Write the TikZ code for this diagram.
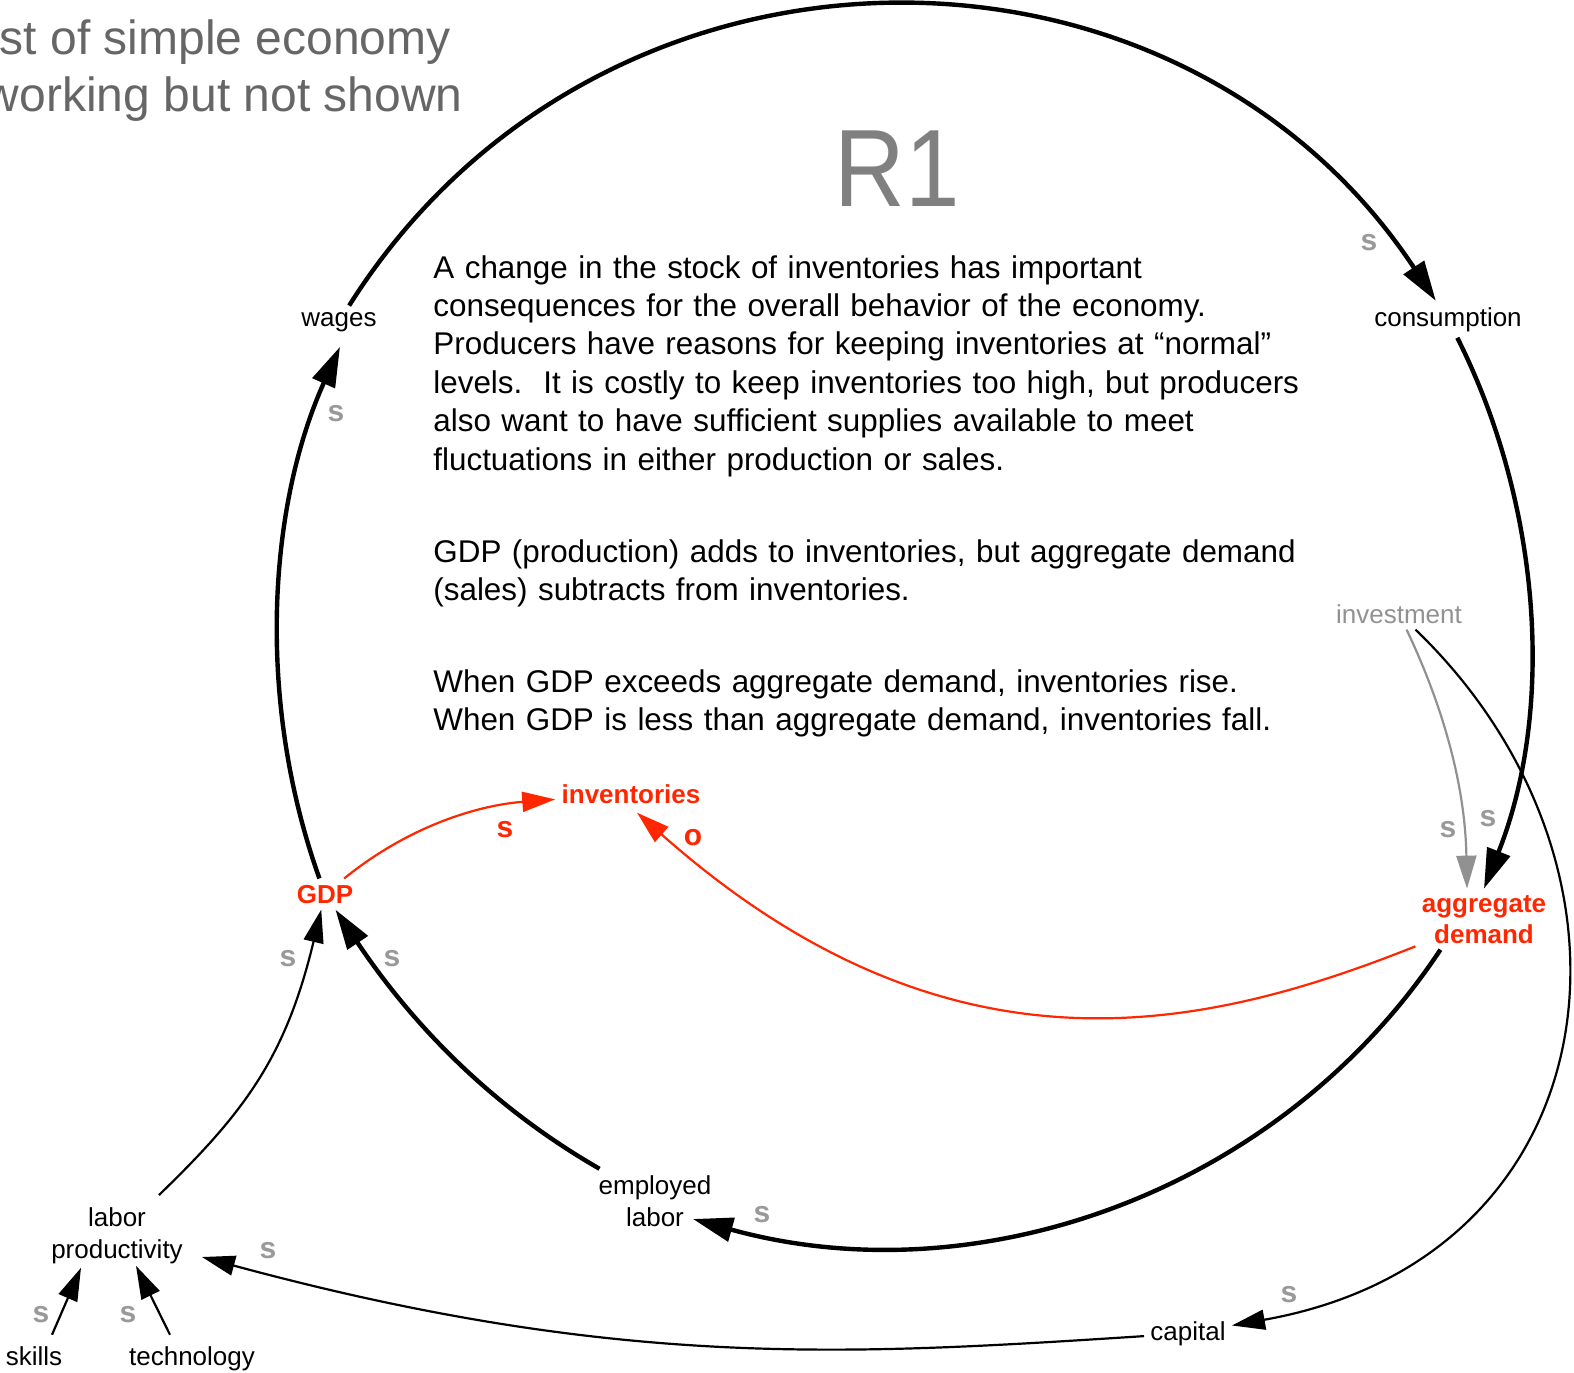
\documentclass[tikz,border=0pt]{standalone}
\usepackage{fontspec}
\setmainfont{Liberation Sans}
\usetikzlibrary{arrows.meta,calc}
\definecolor{loopred}{RGB}{255,38,0}
\definecolor{signgray}{RGB}{153,153,153}
\definecolor{titlegray}{RGB}{102,102,102}
\definecolor{bigray}{RGB}{128,128,128}
\definecolor{invgray}{RGB}{145,145,145}

\begin{document}
\begin{tikzpicture}[x=0.5pt,y=-0.5pt,
  lab/.style={font=\fontsize{13}{16}\selectfont, align=center, inner sep=3pt},
  redlab/.style={lab, font=\fontsize{13}{15.5}\selectfont\bfseries, text=loopred},
  sign/.style={font=\fontsize{15}{17}\selectfont\bfseries, text=signgray, inner sep=0pt},
  redsign/.style={sign, text=loopred},
  bigarrow/.style={line width=2.2pt, -{Triangle[length=20pt,width=12pt]}},
  smallarrow/.style={line width=1.1pt, -{Triangle[length=16.5pt,width=10pt]}},
  redarrow/.style={smallarrow, loopred},
  grayarrow/.style={smallarrow, invgray},
  para/.style={font=\fontsize{15.7}{19.2}\selectfont, align=left, inner sep=0pt,
    text width=480pt, anchor=base west},
]
\useasboundingbox (0,0) rectangle (1574,1372);

% heading fragments and loop name
\node[font=\fontsize{24}{28.5}\selectfont, text=titlegray, anchor=base east, inner sep=0pt]
  (t1) at (451,54) {st of simple economy};
\node[font=\fontsize{24}{28.5}\selectfont, text=titlegray, anchor=base east, inner sep=0pt]
  (t2) at (463,111) {working but not shown};
\node[font=\fontsize{55}{60}\selectfont, text=bigray, anchor=base, inner sep=0pt]
  (r1) at (897,206) {\scalebox{0.89}[1]{R1}};

% explanatory text
\node[para] (p1) at (433,278) {A change in the stock of inventories has important\\
consequences for the overall behavior of the economy.\\
Producers have reasons for keeping inventories at “normal”\\
levels.\ \ It is costly to keep inventories too high, but producers\\
also want to have sufficient supplies available to meet\\
fluctuations in either production or sales.};
\node[para] (p2) at (433,562) {GDP (production) adds to inventories, but aggregate demand\\
(sales) subtracts from inventories.};
\node[para] (p3) at (433,692) {When GDP exceeds aggregate demand, inventories rise.\\
When GDP is less than aggregate demand, inventories fall.};

% variables (base = baseline of the last line)
\node[lab, anchor=base] (wages) at (339,326) {wages};
\node[lab, anchor=base] (cons) at (1448,326) {consumption};
\node[lab, anchor=base, text=invgray] (inv) at (1399,623) {investment};
\node[redlab, anchor=base] (ad) at (1484,943) {aggregate\\demand};
\node[redlab, anchor=base] (gdp) at (325,903) {GDP};
\node[redlab, anchor=base] (invt) at (631,803) {inventories};
\node[lab, anchor=base] (emp) at (655,1226) {employed\\labor};
\node[lab, anchor=base] (lp) at (117,1258) {labor\\productivity};
\node[lab, anchor=base] (skills) at (34,1365) {skills};
\node[lab, anchor=base] (tech) at (192,1365) {technology};
\node[lab, anchor=base] (cap) at (1188,1340) {capital};

% reinforcing loop R1
\draw[bigarrow] (wages) .. controls (600,-92) and (1176,-92) .. (cons);
\draw[bigarrow] (cons) .. controls (1540,502) and (1556,707) .. (ad.north);
\draw[bigarrow] (ad.-145) .. controls (1280,1192) and (978,1298) .. ($(emp.base)+(38,-7)$);
\draw[bigarrow] (emp) .. controls (480,1100) and (404,1012) .. (gdp);
\draw[bigarrow] (gdp) .. controls (256,701) and (268,507) .. ($(wages.south)+(1,9)$);

% inventory links
\draw[redarrow] (gdp) .. controls (410,825) and (480,805) .. (invt);
\draw[redarrow] (ad) .. controls (1205,1030) and (950,1090) .. ($(invt.south)+(6,3)$);

% investment, capital and productivity
\draw[grayarrow] (inv) .. controls (1440,700) and (1465,780) .. ($(ad.north)+(-17,0)$);
\draw[smallarrow] (inv) .. controls (1665,870) and (1612,1258) .. (cap);
\draw[smallarrow] (cap) .. controls (850,1355) and (620,1370) .. ($(lp.base)+(85,-1)$);
\draw[smallarrow] ($(lp.base)+(42,-63)$) .. controls (246,1111) and (286,1056) .. (gdp);
\draw[smallarrow] ($(skills.north)+(18,-5)$) -- ($(lp.south)+(-36,-2)$);
\draw[smallarrow] ($(tech.north)+(-22,-5)$) -- ($(lp.south)+(19,-4)$);

% link polarities
\node[sign] (s1) at (1369,243) {s};
\node[sign] (s2) at (336,414) {s};
\node[sign] (s3) at (1488,819) {s};
\node[sign] (s4) at (1448,830) {s};
\node[sign] (s5) at (762,1215) {s};
\node[sign] (s6) at (392,959) {s};
\node[sign] (s7) at (288,959) {s};
\node[sign] (s8) at (268,1251) {s};
\node[sign] (s9) at (1289,1295) {s};
\node[sign] (s10) at (41,1315) {s};
\node[sign] (s11) at (128,1315) {s};
\node[redsign] (rs) at (505,830) {s};
\node[redsign] (ro) at (693,838) {o};
\end{tikzpicture}
\end{document}
